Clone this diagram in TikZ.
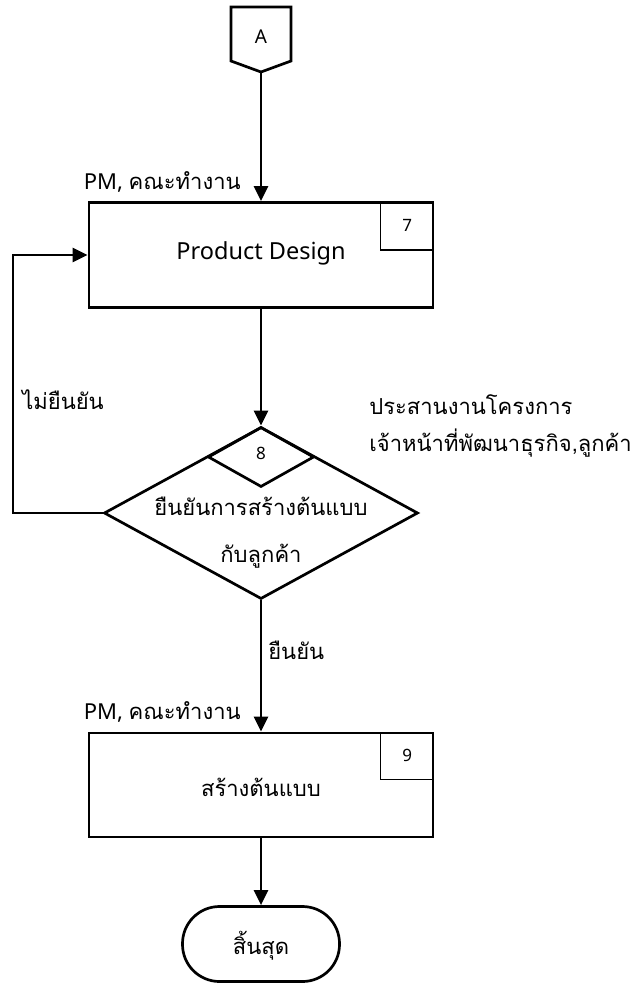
\documentclass[tikz,border=0pt]{standalone}
\usepackage{fontspec}
\setmainfont{Noto Sans}
\newfontfamily\thai[Script=Thai]{Loma}
\usetikzlibrary{shapes.geometric,arrows.meta}

\begin{document}
\begin{tikzpicture}[x=1pt,y=-1pt,
    line width=2.7pt,
    arr/.style={-{Triangle[length=15pt,width=14pt]}},
    procbox/.style={draw, rectangle, minimum width=344pt, minimum height=105pt, inner sep=0pt},
    numbox/.style={draw, line width=1.4pt, rectangle, minimum width=53pt, minimum height=48pt, inner sep=0pt, font=\fontsize{17}{20}\selectfont},
    decbox/.style={draw, diamond, inner sep=0pt},
    lbl/.style={font=\fontsize{22}{26}\selectfont\thai, inner sep=0pt},
    txt/.style={font=\fontsize{22}{26}\selectfont, inner sep=0pt}
]

    \useasboundingbox (0,0) rectangle (637,984);

    % Off-page connector
    \draw (231,7) -- (291,7) -- (291,61) -- (261,72) -- (231,61) -- cycle;
    \node[txt, font=\fontsize{19}{21}\selectfont] (A) at (261,37) {A};
    \coordinate (Abot) at (261,72);

    % Step 7
    \node[procbox] (design) at (261,255) {};
    \node[txt, font=\fontsize{23.5}{28}\selectfont] (designtxt) at (261,253) {Product Design};
    \node[numbox, anchor=north east] (n7) at (design.north east) {7};
    \node[lbl, anchor=east] (pm1) at (242,182) {\fontspec{Noto Sans}PM, \thai คณะทำงาน};
    \draw[arr] (Abot) -- (design.north);

    % Step 8 (decision)
    \node[decbox, minimum width=314pt, minimum height=172pt] (check) at (261,513) {};
    \node[decbox, minimum width=106pt, minimum height=60pt, anchor=north] (n8) at (check.north) {};
    \node[txt, font=\fontsize{17}{20}\selectfont] (n8txt) at (261,453) {8};
    \node[txt, font=\fontsize{22}{47}\selectfont\thai, align=center] (checktxt) at (261,533)
        {ยืนยันการสร้างต้นแบบ\\กับลูกค้า};
    \draw[arr] (design.south) -- (check.north);

    \node[lbl, anchor=west] (coord1) at (368,405) {ประสานงานโครงการ};
    \node[lbl, anchor=west] (coord2) at (368,443) {เจ้าหน้าที่พัฒนาธุรกิจ,ลูกค้า};

    % Loop back when not confirmed
    \coordinate (loop) at (13,513);
    \draw[arr] (check.west) -- (loop) |- (design.west);
    \node[lbl, anchor=west] (no) at (21,400) {ไม่ยืนยัน};

    % Step 9
    \node[procbox, minimum height=104pt] (proto) at (261,785) {};
    \node[txt, font=\fontsize{22}{26}\selectfont\thai] (prototxt) at (261,787) {สร้างต้นแบบ};
    \node[numbox, minimum height=47pt, anchor=north east] (n9) at (proto.north east) {9};
    \node[lbl, anchor=east] (pm2) at (242,712) {\fontspec{Noto Sans}PM, \thai คณะทำงาน};
    \draw[arr] (check.south) -- (proto.north);
    \node[lbl, anchor=west] (yes) at (267,650) {ยืนยัน};

    % End
    \node[draw, rectangle, rounded corners=37pt, minimum width=157pt, minimum height=75pt, inner sep=0pt] (finish) at (261,944) {};
    \node[txt, font=\fontsize{22}{26}\selectfont\thai] (finishtxt) at (261,946) {สิ้นสุด};
    \draw[arr] (proto.south) -- (finish.north);

\end{tikzpicture}
\end{document}
